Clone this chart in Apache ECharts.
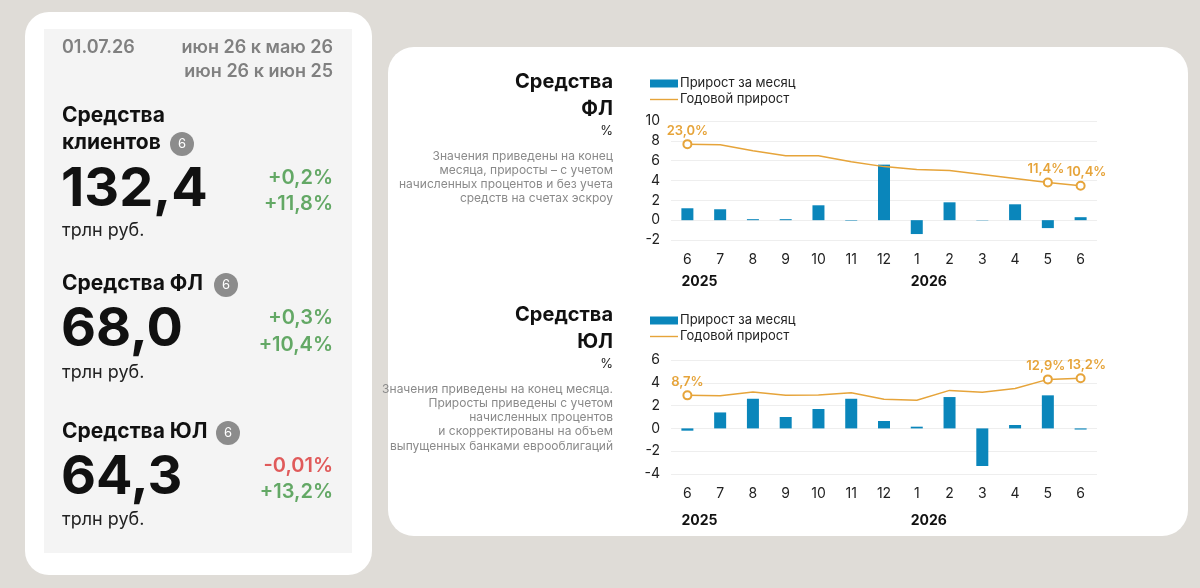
<!DOCTYPE html>
<html lang="ru">
<head>
    <meta charset="UTF-8">
    <title>Средства клиентов</title>
    <script src="https://cdn.jsdelivr.net/npm/echarts@6.0.0/dist/echarts.min.js"></script>
    <style>
        html, body { margin: 0; padding: 0; background: #dfdcd7; }
        #chart-container { width: 1200px; height: 588px; }
    </style>
</head>
<body>
<div id="chart-container"></div>

<script>
    // месяцы по оси X
    var months = ["6", "7", "8", "9", "10", "11", "12", "1", "2", "3", "4", "5", "6"];
    var years = ["2025", "", "", "", "", "", "", "2026", "", "", "", "", ""];

    // Средства ФЛ: прирост за месяц (%) и годовой прирост (%)
    var flMonthly = [1.2, 1.1, 0.1, 0.1, 1.5, -0.05, 5.6, -1.4, 1.8, -0.03, 1.6, -0.8, 0.3];
    var flAnnual = [23.0, 22.8, 21.0, 19.5, 19.5, 17.7, 16.2, 15.3, 15.0, 13.8, 12.6, 11.4, 10.4];

    // Средства ЮЛ
    var ulMonthly = [-0.2, 1.4, 2.6, 1.0, 1.7, 2.6, 0.65, 0.15, 2.75, -3.3, 0.3, 2.9, -0.1];
    var ulAnnual = [8.7, 8.6, 9.6, 8.7, 8.8, 9.4, 7.7, 7.4, 10.0, 9.5, 10.5, 12.9, 13.2];

    // точки годового прироста с подписью
    var labelled = [0, 11, 12];

    var FONT = "Inter, 'Noto Sans', sans-serif";
    var BLUE = "#0a86bb";
    var GOLD = "#e6a43a";
    var GREEN = "#63a865";
    var RED = "#e05a5a";

    function pct(v) {
        return v.toFixed(1).replace(".", ",") + "%";
    }

    function annualData(arr) {
        var n = arr.length;
        return arr.map(function (v, i) {
            if (labelled.indexOf(i) >= 0) {
                var item = { value: v, symbol: "emptyCircle", symbolSize: 8, label: { show: true } };
                if (i === n - 1) item.label.offset = [6, 0];
                if (i === n - 2) item.label.offset = [-2, 0];
                return item;
            }
            return { value: v, symbol: "none" };
        });
    }

    function txt(x, y, s, size, color, weight, align) {
        return {
            type: "text", x: x, y: y, z: 10,
            style: {
                text: s, fill: color, fontSize: size, fontFamily: FONT,
                fontWeight: weight || 400, textAlign: align || "left", textVerticalAlign: "middle"
            }
        };
    }

    function badge(x, y) {
        return {
            type: "group", x: x, y: y, z: 10,
            children: [
                { type: "circle", shape: { cx: 0, cy: 0, r: 12 }, style: { fill: "#8c8c8c" } },
                { type: "text", style: { text: "6", x: 0, y: 0, fill: "#fff", fontSize: 13, fontFamily: FONT,
                    textAlign: "center", textVerticalAlign: "middle" } }
            ]
        };
    }

    var graphics = [
        // карточки
        { type: "rect", z: -10, shape: { x: 25, y: 12, width: 347, height: 563, r: 24 }, style: { fill: "#ffffff" } },
        { type: "rect", z: -9, shape: { x: 44, y: 29, width: 308, height: 524 }, style: { fill: "#f4f4f4" } },
        { type: "rect", z: -10, shape: { x: 388, y: 47, width: 800, height: 489, r: 26 }, style: { fill: "#ffffff" } },

        // левая панель
        txt(62, 48, "01.07.26", 18, "#808080", 600),
        txt(333, 48, "июн 26 к маю 26", 18, "#808080", 600, "right"),
        txt(333, 72, "июн 26 к июн 25", 18, "#808080", 600, "right"),

        txt(62, 116, "Средства", 21, "#111", 700),
        txt(62, 143, "клиентов", 21, "#111", 700),
        badge(182, 144),
        txt(61, 190, "132,4", 54, "#111", 700),
        txt(333, 178, "+0,2%", 20, GREEN, 600, "right"),
        txt(333, 204, "+11,8%", 20, GREEN, 600, "right"),
        txt(62, 231, "трлн руб.", 18, "#222", 400),

        txt(62, 284, "Средства ФЛ", 21, "#111", 700),
        badge(226, 285),
        txt(61, 330, "68,0", 54, "#111", 700),
        txt(333, 318, "+0,3%", 20, GREEN, 600, "right"),
        txt(333, 345, "+10,4%", 20, GREEN, 600, "right"),
        txt(62, 373, "трлн руб.", 18, "#222", 400),

        txt(62, 432, "Средства ЮЛ", 21, "#111", 700),
        badge(228, 433),
        txt(61, 478, "64,3", 54, "#111", 700),
        txt(333, 466, "-0,01%", 20, RED, 600, "right"),
        txt(333, 492, "+13,2%", 20, GREEN, 600, "right"),
        txt(62, 520, "трлн руб.", 18, "#222", 400),

        // заголовки графиков
        txt(613, 82, "Средства", 20, "#111", 700, "right"),
        txt(613, 109, "ФЛ", 20, "#111", 700, "right"),
        txt(613, 131, "%", 13, "#222", 400, "right"),
        txt(613, 156, "Значения приведены на конец", 12, "#8a8a8a", 400, "right"),
        txt(613, 170, "месяца, приросты – с учетом", 12, "#8a8a8a", 400, "right"),
        txt(613, 184, "начисленных процентов и без учета", 12, "#8a8a8a", 400, "right"),
        txt(613, 198, "средств на счетах эскроу", 12, "#8a8a8a", 400, "right"),

        txt(613, 315, "Средства", 20, "#111", 700, "right"),
        txt(613, 342, "ЮЛ", 20, "#111", 700, "right"),
        txt(613, 364, "%", 13, "#222", 400, "right"),
        txt(613, 389, "Значения приведены на конец месяца.", 12, "#8a8a8a", 400, "right"),
        txt(613, 403, "Приросты приведены с учетом", 12, "#8a8a8a", 400, "right"),
        txt(613, 417, "начисленных процентов", 12, "#8a8a8a", 400, "right"),
        txt(613, 431, "и скорректированы на объем", 12, "#8a8a8a", 400, "right"),
        txt(613, 446, "выпущенных банками еврооблигаций", 12, "#8a8a8a", 400, "right")
    ];

    function legend(top) {
        return {
            left: 645, top: top, orient: "vertical",
            itemWidth: 28, itemHeight: 8, itemGap: 3,
            textStyle: { fontFamily: FONT, fontSize: 13, color: "#222", padding: [0, 0, 0, -3] },
            data: [
                { name: "Прирост за месяц", icon: "rect" },
                { name: "Годовой прирост", icon: "path://M0,0L40,0L40,2L0,2Z" }
            ]
        };
    }

    function monthAxis(gi) {
        return {
            type: "category", gridIndex: gi, data: months, z: 3,
            axisLine: { show: false }, axisTick: { show: false },
            axisLabel: { color: "#222", fontSize: 14, fontFamily: FONT, margin: 13 }
        };
    }

    function yearAxis(gi, offset) {
        return {
            type: "category", gridIndex: gi, data: years, position: "bottom", offset: offset, z: 3,
            axisLine: { show: false }, axisTick: { show: false },
            axisLabel: { color: "#111", fontSize: 14, fontFamily: FONT, fontWeight: 700,
                align: "left", interval: 0, margin: 13, padding: [0, 0, 0, -6] }
        };
    }

    function valueAxis(gi, min, max) {
        return {
            type: "value", gridIndex: gi, min: min, max: max, interval: 2, z: 1,
            axisLine: { show: false }, axisTick: { show: false },
            splitLine: { lineStyle: { color: "#eeeeee", width: 1 } },
            axisLabel: { color: "#222", fontSize: 14, fontFamily: FONT, margin: 11 }
        };
    }

    function hiddenAxis(gi, min, max) {
        return { type: "value", gridIndex: gi, min: min, max: max, show: false, splitLine: { show: false } };
    }

    function barSeries(xi, yi, data) {
        return {
            name: "Прирост за месяц", type: "bar", xAxisIndex: xi, yAxisIndex: yi,
            barWidth: 12, itemStyle: { color: BLUE }, data: data, z: 4
        };
    }

    function lineSeries(xi, yi, data) {
        return {
            name: "Годовой прирост", type: "line", xAxisIndex: xi, yAxisIndex: yi,
            symbol: "emptyCircle", symbolSize: 8, showSymbol: true,
            lineStyle: { color: GOLD, width: 1.5 },
            itemStyle: { color: GOLD, borderWidth: 1.5 },
            label: {
                show: false, position: "top", distance: 2, color: GOLD, fontSize: 13,
                fontFamily: FONT, fontWeight: 600,
                formatter: function (p) { return pct(p.value); }
            },
            z: 5,
            data: annualData(data)
        };
    }

    var option = {
        backgroundColor: "#dfdcd7",
        animation: false,
        graphic: graphics,
        legend: [legend(72), legend(309)],
        grid: [
            { left: 671, right: 103, top: 121, height: 119 },
            { left: 671, right: 103, top: 360, height: 114 }
        ],
        xAxis: [monthAxis(0), yearAxis(0, 22), monthAxis(1), yearAxis(1, 27)],
        yAxis: [
            valueAxis(0, -2, 10), hiddenAxis(0, -6, 30),
            valueAxis(1, -4, 6), hiddenAxis(1, -12, 18)
        ],
        series: [
            barSeries(0, 0, flMonthly),
            lineSeries(0, 1, flAnnual),
            barSeries(2, 2, ulMonthly),
            lineSeries(2, 3, ulAnnual)
        ]
    };

    var chart = echarts.init(document.getElementById("chart-container"));
    chart.setOption(option);
</script>
</body>
</html>
